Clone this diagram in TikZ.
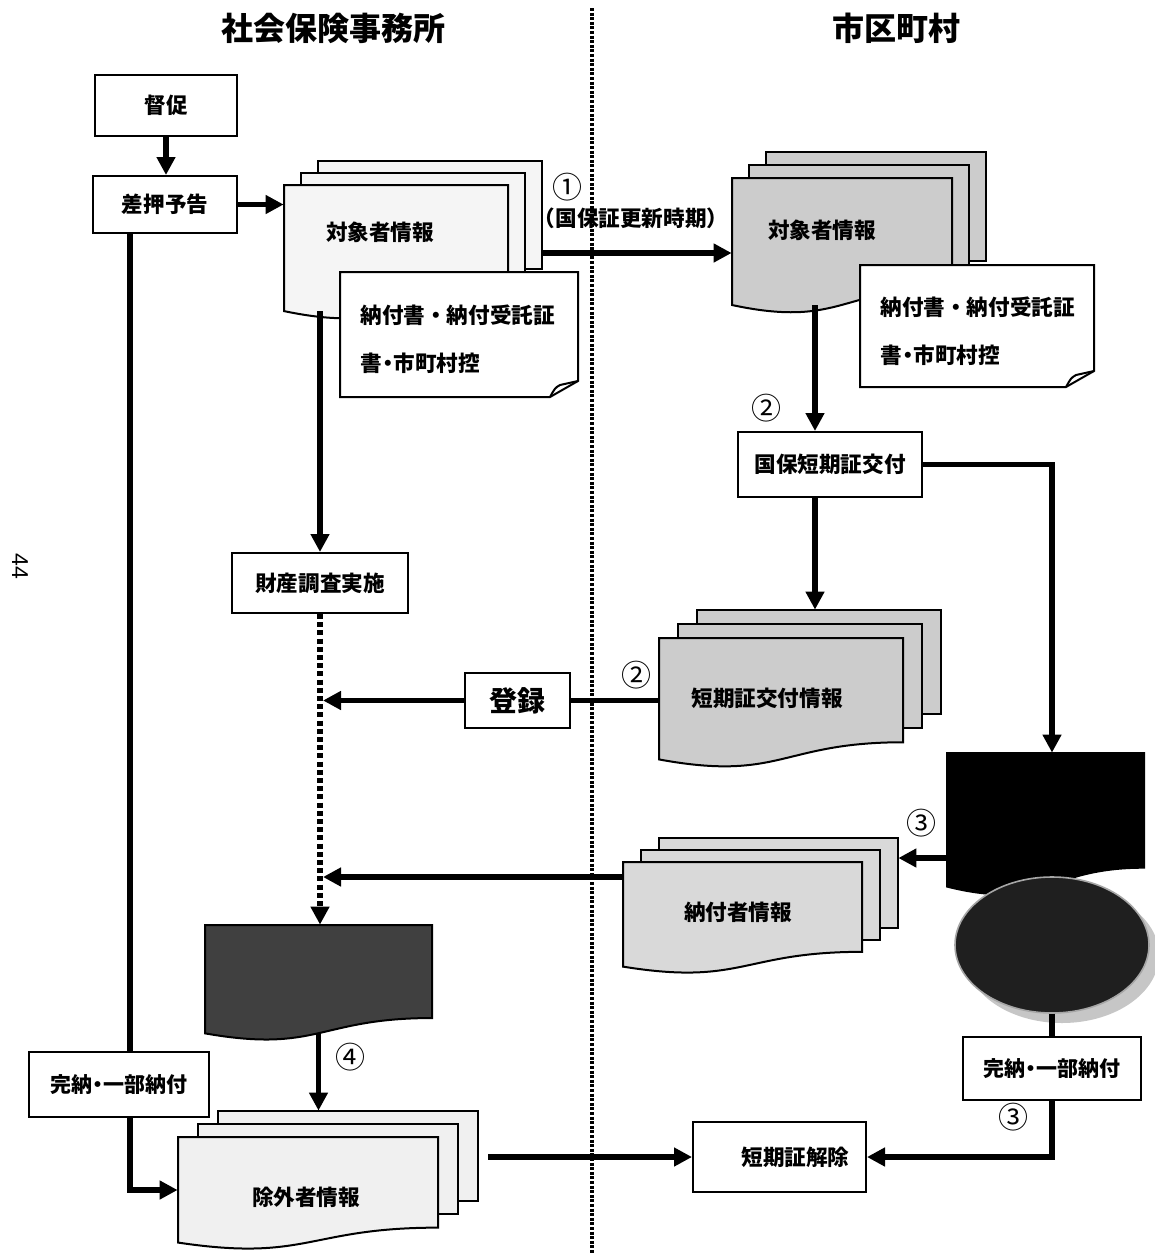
\documentclass[tikz,border=0pt]{standalone}
\usepackage{fontspec}
\setmainfont{Noto Sans CJK JP}
\newfontfamily\latinfont{Liberation Sans}
\usetikzlibrary{arrows.meta,fit,shapes.geometric}

% document shape: x1, top, x2, height, style
\newcommand{\docshape}[5]{%
  \path[#5] (#1,#2) -- (#3,#2) -- (#3,{#2+0.802*#4})
    .. controls ({(#1+#3)/2},{#2+0.802*#4}) and ({(#1+#3)/2},{#2+1.107*#4}) ..
    (#1,{#2+0.934*#4}) -- cycle;}
% stack of documents: x1, top, x2, height, dx, dy, style
\newcommand{\multidoc}[7]{%
  \path[#7] ({#1+2*#5},{#2-2*#6}) rectangle ({#3+2*#5},{#2+0.8*#4-2*#6});
  \path[#7] ({#1+#5},{#2-#6}) rectangle ({#3+#5},{#2+0.8*#4-#6});
  \docshape{#1}{#2}{#3}{#4}{#7}}
% note with folded corner: x1,y1,x2,y2
\newcommand{\notepath}[4]{%
  \path[draw, fill=white, line width=1pt] (#1,#2) -- (#3,#2) -- (#3,{#4-16}) -- ({#3-28},#4) -- (#1,#4) -- cycle;
  \draw[line width=1pt] (#3,{#4-16}) -- ({#3-18},{#4-12}) .. controls ({#3-23},{#4-9}) .. ({#3-28},#4);}
\newcommand{\ndot}{\kern-2.5pt・\kern-2.5pt}

\tikzset{
  box/.style={draw, line width=1pt, fill=white, inner sep=0pt, font=\bfseries\fontsize{10.8pt}{13pt}\selectfont},
  arr/.style={line width=2.6pt, -{Triangle[length=9pt,width=9pt]}},
  dotarr/.style={line width=2.6pt, dash pattern=on 2.5pt off 1.6pt, -{Triangle[length=9pt,width=9pt]}},
  conn/.style={line width=2.6pt},
  lbl/.style={font=\bfseries\fontsize{10.8pt}{13pt}\selectfont, inner sep=1pt},
  num/.style={font=\fontsize{15pt}{17pt}\selectfont, inner sep=0pt},
  hdr/.style={font=\bfseries\fontsize{16pt}{19pt}\selectfont},
  divider/.style={line width=1.7pt, dash pattern=on 1.5pt off 0.8pt},
  pale/.style={draw, line width=1pt, fill=gray!8},
  mid/.style={draw, line width=1pt, fill=gray!40},
  midl/.style={draw, line width=1pt, fill=gray!30},
  faint/.style={draw, line width=1pt, fill=gray!12},
  darkdoc/.style={draw, line width=1pt, fill=black!75},
  blackdoc/.style={draw, line width=1pt, fill=black},
}

\begin{document}
\begin{tikzpicture}[x=0.5pt,y=-0.5pt]
\useasboundingbox (0,0) rectangle (1155,1253);
\fill[white] (0,0) rectangle (1155,1253);

% headers and divider
\node[hdr] (h1) at (333,28) {社会保険事務所};
\node[hdr] (h2) at (896,28) {市区町村};
\coordinate (dtop) at (592,8);
\coordinate (dbot) at (592,1253);
\draw[divider] (dtop) -- (dbot);
\node[rotate=-90, font=\latinfont\fontsize{11.5pt}{13pt}\selectfont] (pg) at (20,566) {44};

% boxes
\node[box, minimum width=71pt, minimum height=30.5pt] (tok) at (166,105.5) {督促};
\node[box, minimum width=72pt, minimum height=28.5pt] (sa) at (165,204.5) {差押予告\hspace{12pt}};
\node[box, minimum width=88pt, minimum height=30pt] (zai) at (320,583) {財産調査実施};
\node[box, minimum width=52.5pt, minimum height=27.5pt, font=\bfseries\fontsize{14pt}{16pt}\selectfont] (tou) at (517.5,700.5) {登録};
\node[box, minimum width=92pt, minimum height=32.5pt] (kok) at (830,464.5) {国保短期証交付};
\node[box, minimum width=90pt, minimum height=32.5pt, font=\bfseries\fontsize{10.5pt}{13pt}\selectfont] (kanL) at (119,1084.5) {完納\ndot 一部納付};
\node[box, minimum width=89pt, minimum height=31.5pt, font=\bfseries\fontsize{10.5pt}{13pt}\selectfont] (kanR) at (1052,1068.5) {完納\ndot 一部納付};
\node[box, minimum width=86.5pt, minimum height=35pt] (tkj) at (779.5,1157) {\hspace{16pt}短期証解除};

% stack S1 (left, 対象者情報)
\multidoc{284}{185}{508}{135}{17}{12}{pale}
\node[fit={(284,185) (508,311)}, inner sep=0pt] (s1) {};
\node[fit={(318,161) (542,269)}, inner sep=0pt] (s1b) {};
\node[lbl] (s1t) at (380,232) {対象者情報};
\notepath{340}{272}{578}{397}
\node[lbl, anchor=west] (n1a) at (358,315) {納付書・納付受託証};
\node[lbl, anchor=west] (n1b) at (358,363) {書\ndot 市町村控};

% stack S2 (right, 対象者情報)
\multidoc{732}{178}{952}{136}{17}{13}{mid}
\node[fit={(732,178) (952,305)}, inner sep=0pt] (s2) {};
\node[fit={(766,152) (986,261)}, inner sep=0pt] (s2b) {};
\node[lbl] (s2t) at (822,230) {対象者情報};
\notepath{860}{265}{1094}{387}
\node[lbl, anchor=west] (n2a) at (878,307) {納付書・納付受託証};
\node[lbl, anchor=west] (n2b) at (878,355) {書\ndot 市町村控};

% stack S3 (短期証交付情報)
\multidoc{659}{638}{903}{130}{19}{14}{mid}
\node[fit={(659,638) (903,759)}, inner sep=0pt] (s3) {};
\node[fit={(697,610) (941,714)}, inner sep=0pt] (s3b) {};
\node[lbl] (s3t) at (767,698) {短期証交付情報};

% stack S4 (納付者情報)
\multidoc{623}{862}{862}{112}{18}{12}{midl}
\node[fit={(623,862) (862,967)}, inner sep=0pt] (s4) {};
\node[fit={(659,838) (898,928)}, inner sep=0pt] (s4b) {};
\node[lbl] (s4t) at (738,912) {納付者情報};

% stack S5 (除外者情報)
\multidoc{178}{1137}{438}{113}{20}{13}{faint}
\node[fit={(178,1137) (438,1243)}, inner sep=0pt] (s5) {};
\node[fit={(218,1111) (478,1201)}, inner sep=0pt] (s5b) {};
\node[lbl] (s5t) at (306,1197) {除外者情報};

% dark document D1
\docshape{205}{925}{432}{116}{darkdoc}
\node[fit={(205,925) (432,1033)}, inner sep=0pt] (d1) {};

% black document and disk
\docshape{947}{753}{1144}{143}{blackdoc}
\node[fit={(947,753) (1144,887)}, inner sep=0pt] (b1) {};
\node[ellipse, minimum width=97pt, minimum height=68pt, fill=gray!45] (halo) at (1062,955) {};
\node[ellipse, minimum width=97pt, minimum height=68pt, fill=black!88, draw=gray!70, line width=0.8pt] (disk) at (1052,945) {};

% connectors
\draw[arr] (tok.south) -- (tok.south |- sa.north);
\draw[arr] (sa.east) -- (sa.east -| s1.west);
\coordinate (yone) at (0,253);
\draw[arr] (s1b.east |- yone) -- (s2.west |- yone);
\node[num] (c1) at (567,187) {①};
\node[lbl] (c1t) at (631,218) {（国保証更新時期）};

\draw[arr] (zai.north |- s1.south) -- (zai.north);
\draw[dotarr] (zai.south) -- (zai.south |- d1.north);

\draw[conn] (tou.east) -- (tou.east -| s3.west);
\coordinate (dotx) at (323,0);
\draw[arr] (tou.west) -- (tou.west -| dotx);
\node[num] (c2b) at (636,675) {②};

\coordinate (yfour) at (0,877);
\draw[arr] (s4.west |- yfour) -- (dotx |- yfour);

\coordinate (xtwo) at (815,0);
\draw[arr] (xtwo |- s2.south) -- (xtwo |- kok.north);
\node[num] (c2a) at (766,408) {②};
\draw[arr] (kok.east) -| (b1.north -| disk.south);
\draw[arr] (xtwo |- kok.south) -- (xtwo |- s3b.north);

\coordinate (ythree) at (0,858);
\draw[arr] (b1.west |- ythree) -- (s4b.east |- ythree);
\node[num] (c3a) at (921,823) {③};

\draw[conn] (disk.south) -- (kanR.north);
\draw[arr] (kanR.south) |- (tkj.east);
\node[num] (c3b) at (1013,1117) {③};
\draw[arr] ([xshift=5pt]s5b.east |- tkj.west) -- (tkj.west);

\draw[arr] (d1.south) -- (d1.south |- s5b.north);
\node[num] (c4) at (350,1057) {④};

\coordinate (xl) at (130,0);
\draw[conn] (xl |- sa.south) -- (xl |- kanL.north);
\draw[arr] (xl |- kanL.south) |- (s5.west);
\end{tikzpicture}
\end{document}
